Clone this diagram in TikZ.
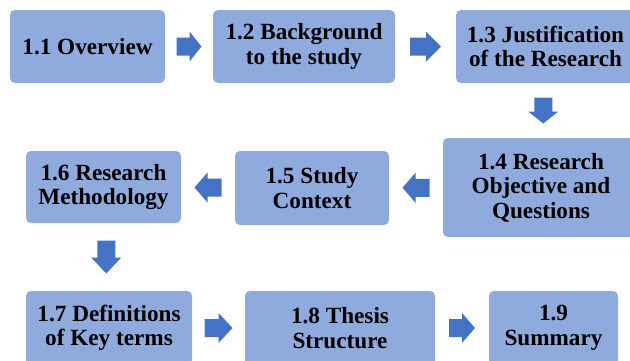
\documentclass[tikz,border=0pt]{standalone}
\usepackage{fontspec}
\setmainfont{Liberation Serif}
\usetikzlibrary{calc}
\definecolor{boxblue}{HTML}{8FAADC}
\definecolor{arrowblue}{HTML}{4472C4}
\begin{document}
\begin{tikzpicture}[x=1pt,y=-1pt,
  stage/.style={fill=boxblue, rounded corners=5pt, inner sep=0pt, align=center,
    font=\fontsize{23.2}{24.6}\selectfont\bfseries, text=black},
  % block arrow pointing along +x: #1 = total length, #2 = head length
  pics/blockarrow/.style 2 args={code={
    \fill[arrowblue] ({-#1/2},-9) -- ({#1/2-#2},-9) -- ({#1/2-#2},-15) -- ({#1/2},0)
      -- ({#1/2-#2},15) -- ({#1/2-#2},9) -- ({-#1/2},9) -- cycle;}}]
\useasboundingbox (0,0) rectangle (630,360);
\clip (0,0) rectangle (630,360);

% top row
\node[stage, minimum width=155pt, minimum height=73pt] (b11) at (87.5,46.5) {1.1 Overview};
\node[stage, minimum width=182pt, minimum height=73pt] (b12) at (304,46.5) {1.2 Background\\to the study};
\node[stage, minimum width=179pt, minimum height=73pt] (b13) at (545.5,46.5) {1.3 Justification\\of the Research};

% middle row
\node[stage, minimum width=196pt, minimum height=99pt] (b14) at (541,187.5) {1.4 Research\\Objective and\\Questions};
\node[stage, minimum width=154pt, minimum height=74pt] (b15) at (312,188) {1.5 Study\\Context};
\node[stage, minimum width=155pt, minimum height=72pt] (b16) at (103.5,187) {1.6 Research\\Methodology};

% bottom row
\node[stage, minimum width=166pt, minimum height=74pt] (b17) at (109,328) {1.7 Definitions\\of Key terms};
\node[stage, minimum width=190pt, minimum height=74pt] (b18) at (340,328) {1.8 Thesis\\Structure};
\node[stage, minimum width=129pt, minimum height=74pt] (b19) at (553.5,328) {1.9\\Summary};

% connectors
\pic at ($(b11.east)!0.5!(b12.west)$) {blockarrow={25}{12}};
\pic at ($(b12.east)!0.5!(b13.west)$) {blockarrow={31}{15}};
\pic[rotate=-90] at ($(b13.south)!0.5!(b14.north)$) {blockarrow={26}{12}};
\pic[rotate=180] at ($(b14.west)!0.5!(b15.east)$) {blockarrow={27}{13}};
\pic[rotate=180] at ($(b15.west)!0.5!(b16.east)$) {blockarrow={27}{13}};
\pic[rotate=-90] at ($(b16.south)!0.5!(b17.north)$) {blockarrow={33}{16}};
\pic at ($(b17.east)!0.5!(b18.west)$) {blockarrow={28}{14}};
\pic at ($(b18.east)!0.5!(b19.west)$) {blockarrow={26}{13}};
\end{tikzpicture}
\end{document}
